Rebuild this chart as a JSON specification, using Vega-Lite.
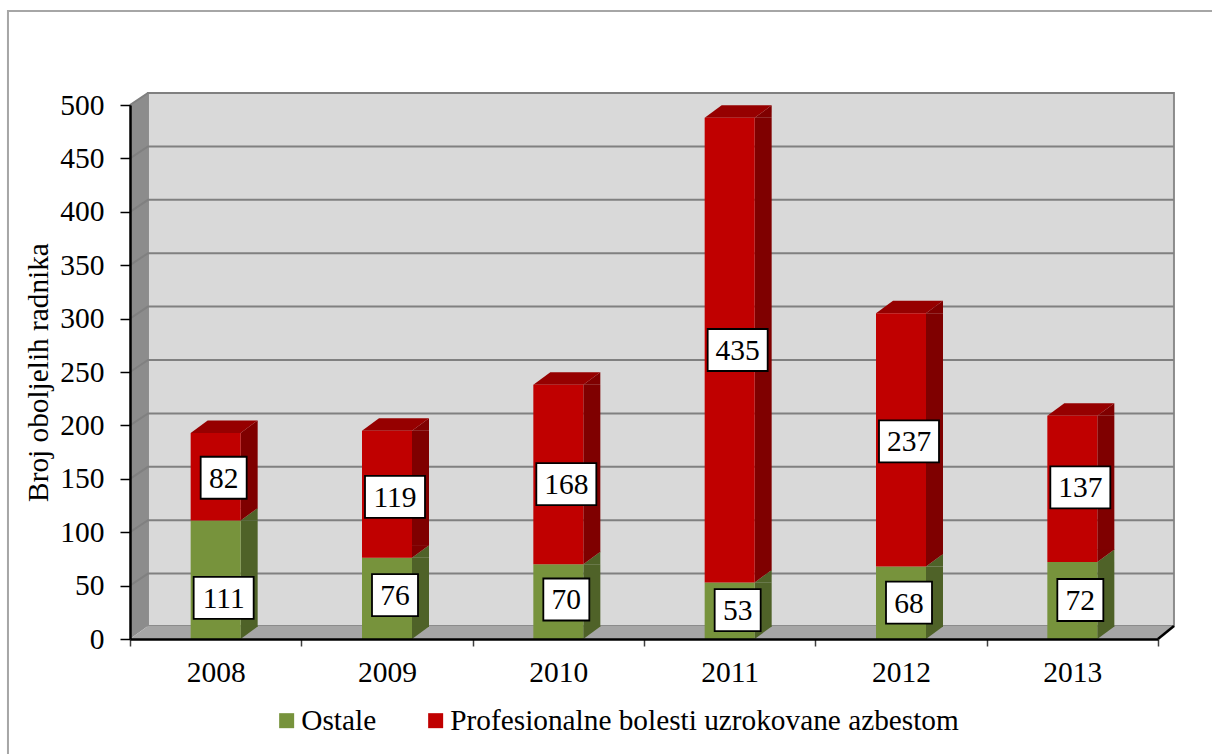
{
"$schema":"https://vega.github.io/schema/vega-lite/v6.json",
"width":1028,"height":534,
"autosize":{"type":"none"},
"padding":{"left":130,"top":105,"right":54,"bottom":115},
"background":"white",
"config":{"view":{"stroke":null},"font":"Liberation Serif"},
"datasets":{
"bars":[
{"year":2008,"series":"Ostale","value":111},{"year":2008,"series":"Profesionalne bolesti uzrokovane azbestom","value":82},
{"year":2009,"series":"Ostale","value":76},{"year":2009,"series":"Profesionalne bolesti uzrokovane azbestom","value":119},
{"year":2010,"series":"Ostale","value":70},{"year":2010,"series":"Profesionalne bolesti uzrokovane azbestom","value":168},
{"year":2011,"series":"Ostale","value":53},{"year":2011,"series":"Profesionalne bolesti uzrokovane azbestom","value":435},
{"year":2012,"series":"Ostale","value":68},{"year":2012,"series":"Profesionalne bolesti uzrokovane azbestom","value":237},
{"year":2013,"series":"Ostale","value":72},{"year":2013,"series":"Profesionalne bolesti uzrokovane azbestom","value":137}],
"grid":[{"year":2008,"y1":0},{"year":2008,"y1":50},{"year":2008,"y1":100},{"year":2008,"y1":150},{"year":2008,"y1":200},{"year":2008,"y1":250},{"year":2008,"y1":300},{"year":2008,"y1":350},{"year":2008,"y1":400},{"year":2008,"y1":450},{"year":2008,"y1":500}],
"labels":[
{"year":2008,"label":111,"y1":38.6},{"year":2008,"label":82,"y1":151},
{"year":2009,"label":76,"y1":41},{"year":2009,"label":119,"y1":133},
{"year":2010,"label":70,"y1":37},{"year":2010,"label":168,"y1":145},
{"year":2011,"label":53,"y1":27},{"year":2011,"label":435,"y1":270.6},
{"year":2012,"label":68,"y1":34},{"year":2012,"label":237,"y1":185},
{"year":2013,"label":72,"y1":36.5},{"year":2013,"label":137,"y1":142}]
},
"encoding":{
"x":{"field":"year","type":"ordinal","title":null,"scale":{"type":"band","paddingInner":0,"paddingOuter":0,"domain":[2008,2009,2010,2011,2012,2013]},
"axis":{"tickBand":"extent","labelAngle":0,"labelFont":"Liberation Serif","labelFontSize":29.5,"labelColor":"#000000","labelPadding":12,"tickSize":7,"tickColor":"#404040","tickWidth":1.5,"domainColor":"#000000","domainWidth":2.5,"zindex":1,"grid":false}},
"y":{"field":"y1","type":"quantitative","title":"Broj oboljelih radnika","scale":{"domain":[0,500],"nice":false},
"axis":{"values":[0,50,100,150,200,250,300,350,400,450,500],"labelFont":"Liberation Serif","labelFontSize":29.5,"labelColor":"#000000","labelPadding":16,"tickSize":10,"tickColor":"#000000","tickWidth":1.5,"domainColor":"#000000","domainWidth":2.5,"zindex":1,"grid":false,"titleFont":"Liberation Serif","titleFontSize":29.3,"titleFontWeight":"normal","titleColor":"#000000","titleX":-92,"titleY":267,"titleAnchor":"middle","titleBaseline":"middle"}}
},
"layer":[
{"data":{"name":"grid"},"transform":[{"filter":"datum.y1===500"}],"layer":[
{"mark":{"type":"point","filled":false,"size":4,"opacity":1,"stroke":"#a6a6a6","strokeWidth":2,"shape":"M-207.7,660V-94H1000"}},
{"mark":{"type":"point","filled":true,"size":4,"opacity":1,"fill":"#d9d9d9","stroke":"#8c8c8c","strokeWidth":2,"shape":"M-67.7,-12H958.3V521H-67.7Z"}},
{"mark":{"type":"point","filled":true,"size":4,"opacity":1,"fill":"#8c8c8c","strokeWidth":0,"shape":"M-85.7,0L-67.7,-12V521L-85.7,534Z"}},
{"mark":{"type":"point","filled":true,"size":4,"opacity":1,"fill":"#a6a6a6","strokeWidth":0,"shape":"M-85.7,534L-67.7,521H958.3L942.3,534Z"}},
{"mark":{"type":"point","filled":false,"size":4,"opacity":1,"stroke":"#000000","strokeWidth":2.5,"shape":"M942.3,534L958.3,521"}}
]},
{"data":{"name":"grid"},"transform":[{"filter":"datum.y1>0"}],"mark":{"type":"point","filled":false,"size":4,"opacity":1,"stroke":"#808080","strokeWidth":2,"shape":"M-85.7,0L-67.7,-12H958.3"}},
{"data":{"name":"bars"},
"transform":[{"stack":"value","groupby":["year"],"sort":[{"field":"series","order":"ascending"}],"as":["y0","y1"]}],
"layer":[
{"mark":{"type":"bar","size":17,"xOffset":33.5,"y2Offset":-12},"encoding":{"y2":{"field":"y0"},"color":{"condition":{"test":"datum.series==='Ostale'","value":"#4f6228"},"value":"#7f0000"}}},
{"mark":{"type":"point","filled":true,"size":4,"opacity":1,"strokeWidth":0,"shape":"M25,0L42,-12.5V0Z"},"encoding":{"fill":{"condition":{"test":"datum.series==='Ostale'","value":"#4f6228"},"value":"#7f0000"}}},
{"mark":{"type":"point","filled":true,"size":4,"opacity":1,"strokeWidth":0,"shape":"M25,0V-12.5H42Z"},"encoding":{"y":{"field":"y0","type":"quantitative"},"fill":{"condition":{"test":"datum.series==='Ostale'","value":"#4f6228"},"value":"#7f0000"}}},
{"transform":[{"filter":"datum.series!=='Ostale'"}],"mark":{"type":"point","filled":true,"size":4,"opacity":1,"strokeWidth":0,"fill":"#960000","shape":"M-25,0L-8,-12.5H42L25,0Z"}},
{"mark":{"type":"bar","size":50},"encoding":{"y2":{"field":"y0"},"color":{"field":"series","type":"nominal","scale":{"domain":["Ostale","Profesionalne bolesti uzrokovane azbestom"],"range":["#77933c","#c00000"]},
"legend":{"title":null,"orient":"none","legendX":142,"legendY":601,"direction":"horizontal","symbolType":"square","symbolSize":225,"symbolStrokeWidth":0,"labelFont":"Liberation Serif","labelFontSize":29.3,"labelColor":"#000000","labelOffset":0,"labelLimit":700,"columnPadding":44}}}}
]},
{"data":{"name":"labels"},"layer":[
{"transform":[{"filter":"datum.label<100"}],"mark":{"type":"point","filled":true,"size":4,"opacity":1,"fill":"#ffffff","stroke":"#000000","strokeWidth":1.8,"xOffset":8,"shape":"M-23,-21H23V21H-23Z"}},
{"transform":[{"filter":"datum.label>=100"}],"mark":{"type":"point","filled":true,"size":4,"opacity":1,"fill":"#ffffff","stroke":"#000000","strokeWidth":1.8,"xOffset":8,"shape":"M-30,-21H30V21H-30Z"}},
{"mark":{"type":"text","font":"Liberation Serif","fontSize":29.5,"color":"#000000","baseline":"middle","align":"center","xOffset":8,"yOffset":1},"encoding":{"text":{"field":"label","type":"quantitative"}}}
]}
]
}
